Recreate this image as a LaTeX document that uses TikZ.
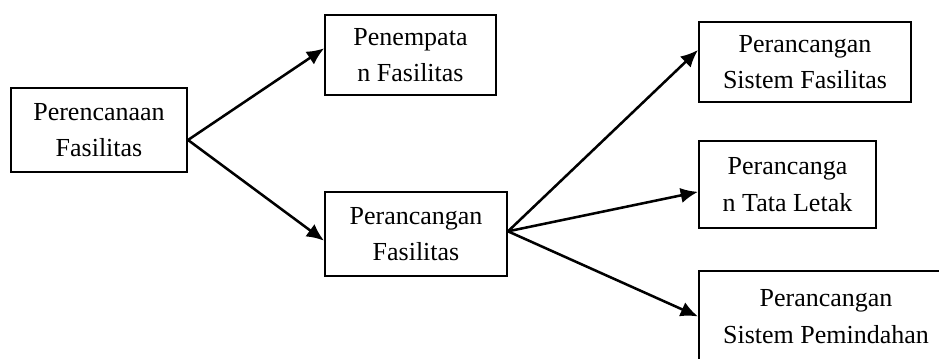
\documentclass[tikz,border=0pt]{standalone}
\usepackage{fontspec}
\setmainfont{Liberation Serif}
\usetikzlibrary{arrows.meta}
\begin{document}
\begin{tikzpicture}[x=0.75pt, y=-0.75pt,
  every node/.style={font=\fontsize{19.5}{27.5}\selectfont},
  box/.style={draw, line width=1.5pt, align=center, inner sep=0pt, text depth=-3pt},
  link/.style={line width=1.9pt, -{Latex[length=13pt,width=11.5pt]}}]
  \useasboundingbox (0,0) rectangle (939,359);
  \clip (0,0) rectangle (939,359);
  \node[box, minimum width=132pt, minimum height=63pt] (plan) at (99,130) {Perencanaan\\Fasilitas};
  \node[box, minimum width=128pt, minimum height=60pt] (place) at (410.5,55) {Penempata\\n Fasilitas};
  \node[box, minimum width=136.5pt, minimum height=63pt] (design) at (416,234) {Perancangan\\Fasilitas};
  \node[box, minimum width=159pt, minimum height=60pt] (system) at (805,62) {Perancangan\\Sistem Fasilitas};
  \node[box, minimum width=132.75pt, minimum height=65pt] (layout) at (787.5,184.5) {Perancanga\\n Tata Letak};
  \node[box, minimum width=190.5pt, minimum height=68pt] (handling) at (826,316.5) {Perancangan\\Sistem Pemindahan};
  \draw[link] ([yshift=-7.5pt]plan.east) -- ([yshift=5pt]place.west);
  \draw[link] ([yshift=-7.5pt]plan.east) -- ([yshift=-5pt]design.west);
  \draw[link] ([yshift=2pt]design.east) -- ([yshift=9pt]system.west);
  \draw[link] ([yshift=2pt]design.east) -- ([yshift=-5.5pt]layout.west);
  \draw[link] ([yshift=2pt]design.east) -- ([yshift=0pt]handling.west);
\end{tikzpicture}
\end{document}
